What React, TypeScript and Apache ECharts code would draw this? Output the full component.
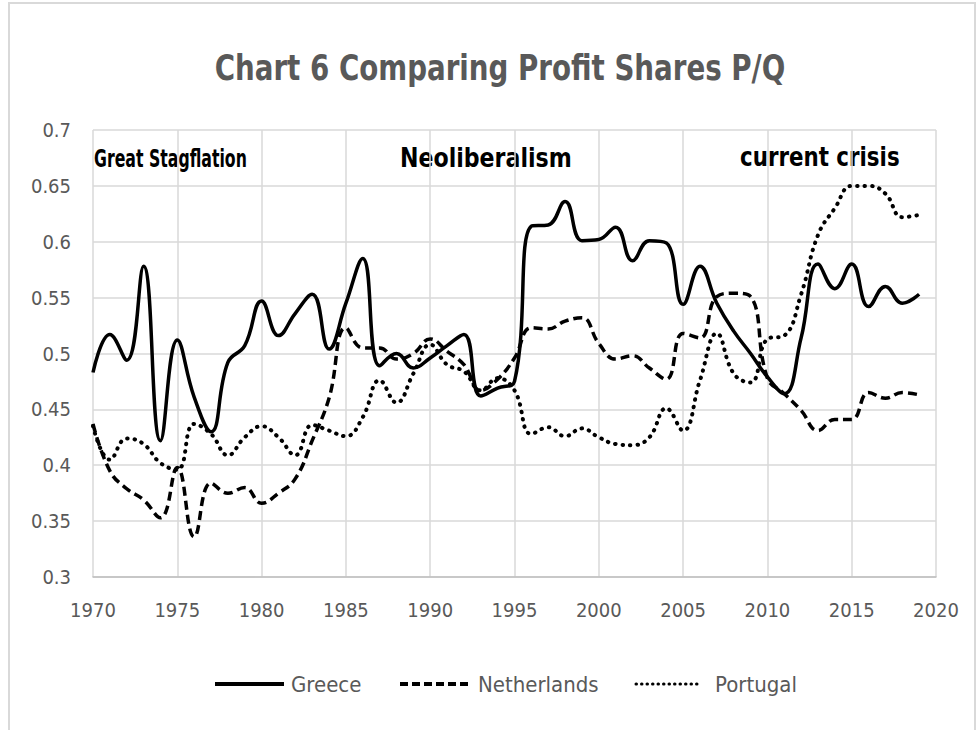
import React, { useEffect, useRef } from "react";
import * as echarts from "echarts";

const years = [
  1970, 1971, 1972, 1973, 1974, 1975, 1976, 1977, 1978, 1979,
  1980, 1981, 1982, 1983, 1984, 1985, 1986, 1987, 1988, 1989,
  1990, 1991, 1992, 1993, 1994, 1995, 1996, 1997, 1998, 1999,
  2000, 2001, 2002, 2003, 2004, 2005, 2006, 2007, 2008, 2009,
  2010, 2011, 2012, 2013, 2014, 2015, 2016, 2017, 2018, 2019,
];

const greece = [
  0.483, 0.517, 0.494, 0.578, 0.422, 0.512, 0.461, 0.43, 0.492, 0.507,
  0.547, 0.516, 0.536, 0.553, 0.504, 0.545, 0.585, 0.489, 0.5, 0.487,
  0.496, 0.507, 0.517, 0.462, 0.469, 0.475, 0.614, 0.615, 0.636, 0.601,
  0.602, 0.613, 0.583, 0.601, 0.599, 0.544, 0.578, 0.545, 0.52, 0.5,
  0.479, 0.464, 0.514, 0.58, 0.558, 0.58, 0.542, 0.56, 0.545, 0.553,
];

const netherlands = [
  0.437, 0.395, 0.379, 0.369, 0.353, 0.398, 0.336, 0.384, 0.375, 0.38,
  0.366, 0.375, 0.388, 0.422, 0.46, 0.523, 0.505, 0.505, 0.495, 0.5,
  0.513, 0.502, 0.49, 0.467, 0.477, 0.496, 0.523, 0.522, 0.529, 0.532,
  0.509, 0.495, 0.498, 0.487, 0.477, 0.518, 0.514, 0.551, 0.554, 0.551,
  0.478, 0.464, 0.449, 0.431, 0.441, 0.441, 0.465, 0.46, 0.465, 0.463,
];

const portugal = [
  0.435, 0.405, 0.424, 0.419, 0.402, 0.396, 0.437, 0.428, 0.409, 0.425,
  0.435, 0.425, 0.409, 0.436, 0.431, 0.426, 0.443, 0.476, 0.456, 0.482,
  0.508, 0.49, 0.484, 0.467, 0.478, 0.467, 0.428, 0.434, 0.426, 0.433,
  0.425, 0.419, 0.418, 0.425, 0.451, 0.431, 0.476, 0.518, 0.482, 0.474,
  0.513, 0.516, 0.553, 0.606, 0.63, 0.65, 0.65, 0.643, 0.622, 0.624,
];

const seriesNames = ["Greece", "Netherlands", "Portugal"];
const annotations = ["Great Stagflation", "Neoliberalism", "current crisis"];
const titleText = "Chart 6 Comparing Profit Shares P/Q";

const FONT = "'DejaVu Sans Condensed', 'DejaVu Sans', sans-serif";
const GRAY = "#595959";
const GRID = "#d9d9d9";

export default function App() {
  const ref = useRef<HTMLDivElement>(null);
  useEffect(() => {
    const chart = echarts.init(ref.current!, null, { renderer: "svg" });
    const toPairs = (vals: number[]) => years.map((y, i) => [y, vals[i]]);
    const dashes: any[] = ["solid", [9, 5], [0.5, 7]];
    const caps: any[] = ["butt", "butt", "round"];
    const data = [greece, netherlands, portugal];

    // custom legend (line sample + label)
    const legendY = 684;
    const legendItems = [
      { x1: 215, x2: 284, tx: 291 },
      { x1: 400, x2: 471, tx: 478 },
      { x1: 636, x2: 700, tx: 715 },
    ];
    const legendGraphics: any[] = [];
    legendItems.forEach((it, i) => {
      legendGraphics.push({
        type: "line",
        silent: true,
        shape: { x1: it.x1, y1: legendY, x2: it.x2, y2: legendY },
        style: {
          stroke: "#000",
          lineWidth: i === 2 ? 3 : 4,
          lineDash: i === 0 ? null : i === 1 ? [8, 4] : [0.5, 5],
          lineCap: caps[i],
        },
      });
      legendGraphics.push({
        type: "text",
        silent: true,
        x: it.tx,
        y: legendY,
        style: {
          text: seriesNames[i],
          fontFamily: FONT,
          fontSize: 22,
          fill: GRAY,
          verticalAlign: "middle",
          align: "left",
        },
      });
    });

    chart.setOption({
      animation: false,
      backgroundColor: "#fff",
      grid: { left: 93, right: 43, top: 130, bottom: 153 },
      xAxis: {
        type: "value",
        min: 1970,
        max: 2020,
        interval: 5,
        axisLine: { show: true, lineStyle: { color: "#bfbfbf", width: 1.5 } },
        axisTick: { show: false },
        splitLine: { show: true, lineStyle: { color: GRID, width: 1.5 } },
        axisLabel: {
          color: GRAY,
          fontSize: 20,
          fontFamily: FONT,
          margin: 23,
          formatter: (v: number) => String(v),
        },
      },
      yAxis: {
        type: "value",
        min: 0.3,
        max: 0.7,
        interval: 0.05,
        axisLine: { show: false },
        axisTick: { show: false },
        splitLine: { show: true, lineStyle: { color: GRID, width: 1.5 } },
        axisLabel: {
          color: GRAY,
          fontSize: 20,
          fontFamily: FONT,
          margin: 22,
          formatter: (v: number) => String(parseFloat(v.toFixed(2))),
        },
      },
      graphic: [
        {
          type: "rect",
          silent: true,
          shape: { x: 9, y: 3, width: 966, height: 740 },
          style: { fill: "none", stroke: "#d9d9d9", lineWidth: 2 },
        },
        {
          type: "text",
          silent: true,
          x: 500,
          y: 68,
          scaleX: 0.88,
          style: {
            text: titleText,
            fontFamily: FONT,
            fontWeight: "bold",
            fontSize: 35,
            fill: GRAY,
            align: "center",
            verticalAlign: "middle",
          },
        },
        {
          type: "text",
          silent: true,
          x: 94,
          y: 158,
          scaleX: 0.7,
          style: { text: annotations[0], fontFamily: FONT, fontWeight: "bold", fontSize: 25, fill: "#000", verticalAlign: "middle" },
        },
        {
          type: "text",
          silent: true,
          x: 400,
          y: 158,
          scaleX: 0.91,
          style: { text: annotations[1], fontFamily: FONT, fontWeight: "bold", fontSize: 27, fill: "#000", verticalAlign: "middle" },
        },
        {
          type: "text",
          silent: true,
          x: 740,
          y: 156,
          scaleX: 0.88,
          style: { text: annotations[2], fontFamily: FONT, fontWeight: "bold", fontSize: 27, fill: "#000", verticalAlign: "middle" },
        },
        ...legendGraphics,
      ],
      series: seriesNames.map((name, i) => ({
        name,
        type: "line",
        data: toPairs(data[i]),
        smooth: 0.45,
        symbol: "none",
        lineStyle: {
          color: "#000",
          width: i === 2 ? 4 : 3.5,
          type: dashes[i],
          cap: caps[i],
        },
        itemStyle: { color: "#000" },
      })),
    });
    return () => chart.dispose();
  }, []);
  return (
    <div
      ref={ref}
      style={{ position: "fixed", left: 0, top: 0, width: 979, height: 730, background: "#fff" }}
    />
  );
}
